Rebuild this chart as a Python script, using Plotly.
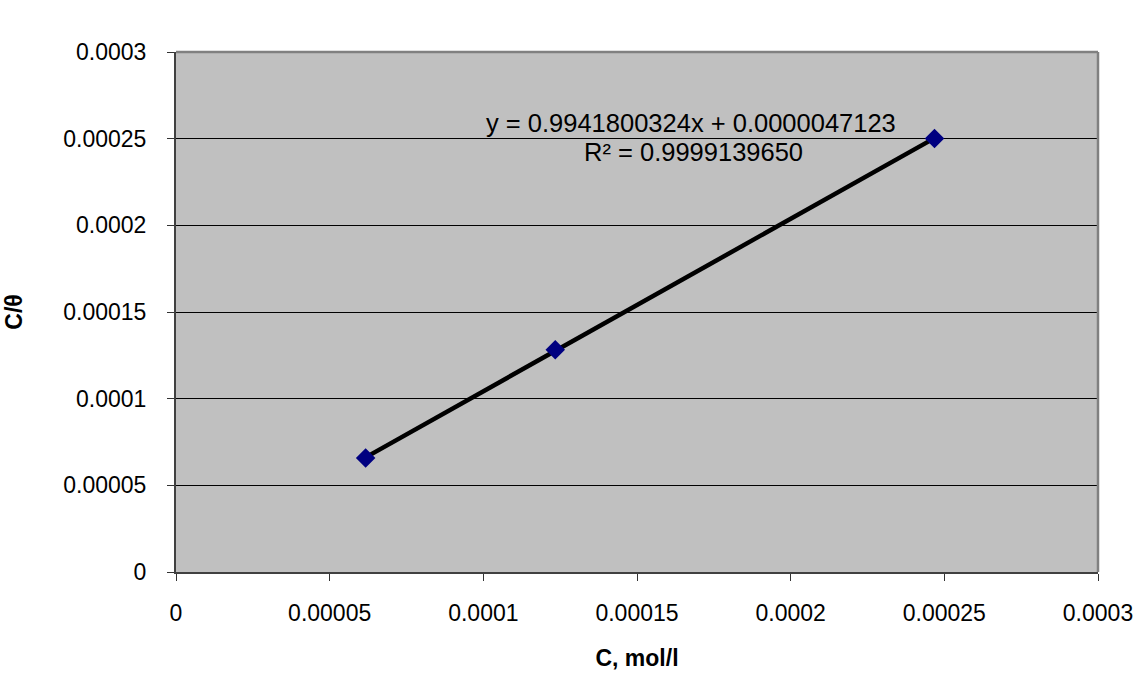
import numpy as np
import plotly.graph_objects as go

C = [0.0000617, 0.0001234, 0.0002468]
C_theta = [0.0000657, 0.0001282, 0.0002501]
tick_vals = [0, 0.00005, 0.0001, 0.00015, 0.0002, 0.00025, 0.0003]
tick_text = ["0", "0.00005", "0.0001", "0.00015", "0.0002", "0.00025", "0.0003"]
eq_text = "y = 0.9941800324x + 0.0000047123"
r2_text = "R² = 0.9999139650"

slope, intercept = np.polyfit(C, C_theta, 1)
fit_x = [min(C), max(C)]
fit_y = [slope * v + intercept for v in fit_x]

font = "Liberation Sans, Arial, sans-serif"
fig = go.Figure()
fig.add_trace(go.Scatter(x=fit_x, y=fit_y, mode="lines",
                         line=dict(color="black", width=4.5), showlegend=False))
fig.add_trace(go.Scatter(x=C, y=C_theta, mode="markers",
                         marker=dict(symbol="diamond", size=15, color="#000080",
                                     line=dict(width=0)), showlegend=False))
fig.add_annotation(x=0.0001675, y=0.0002593, xref="x", yref="y",
                   text=eq_text, showarrow=False, borderpad=0,
                   font=dict(family=font, size=25.5, color="black"),
                   align="center", yanchor="middle")
fig.add_annotation(x=0.0001685, y=0.0002425, xref="x", yref="y",
                   text=r2_text, showarrow=False, borderpad=0,
                   font=dict(family=font, size=25.5, color="black"),
                   align="center", yanchor="middle")

axis_common = dict(tickvals=tick_vals, ticktext=tick_text, range=[0, 0.0003],
                   ticks="outside", ticklen=7, tickcolor="#333333",
                   tickfont=dict(family=font, size=23, color="black"),
                   showline=True, linecolor="#404040", linewidth=2,
                   zeroline=False)
fig.update_xaxes(**axis_common, showgrid=False, ticklabelstandoff=12,
                 title=dict(text="<b>C, mol/l</b>", font=dict(family=font, size=23, color="black"),
                            standoff=25))
fig.update_yaxes(**axis_common, showgrid=True, gridcolor="black", gridwidth=1,
                 ticklabelstandoff=16,
                 title=dict(text="<b>C/θ</b>", font=dict(family=font, size=23, color="black"),
                            standoff=34))
fig.add_shape(type="line", xref="paper", yref="paper", x0=0, y0=1, x1=1, y1=1,
              line=dict(color="#808080", width=2.5), layer="above")
fig.add_shape(type="line", xref="paper", yref="paper", x0=1, y0=0, x1=1, y1=1,
              line=dict(color="#808080", width=2.5), layer="above")
fig.update_layout(width=1145, height=679,
                  margin=dict(l=176, r=47, t=52, b=105),
                  plot_bgcolor="#C0C0C0", paper_bgcolor="white")
fig.write_html("out.html", config={"displayModeBar": False},
               post_script="document.body.style.margin='0';document.body.style.overflow='hidden';")
